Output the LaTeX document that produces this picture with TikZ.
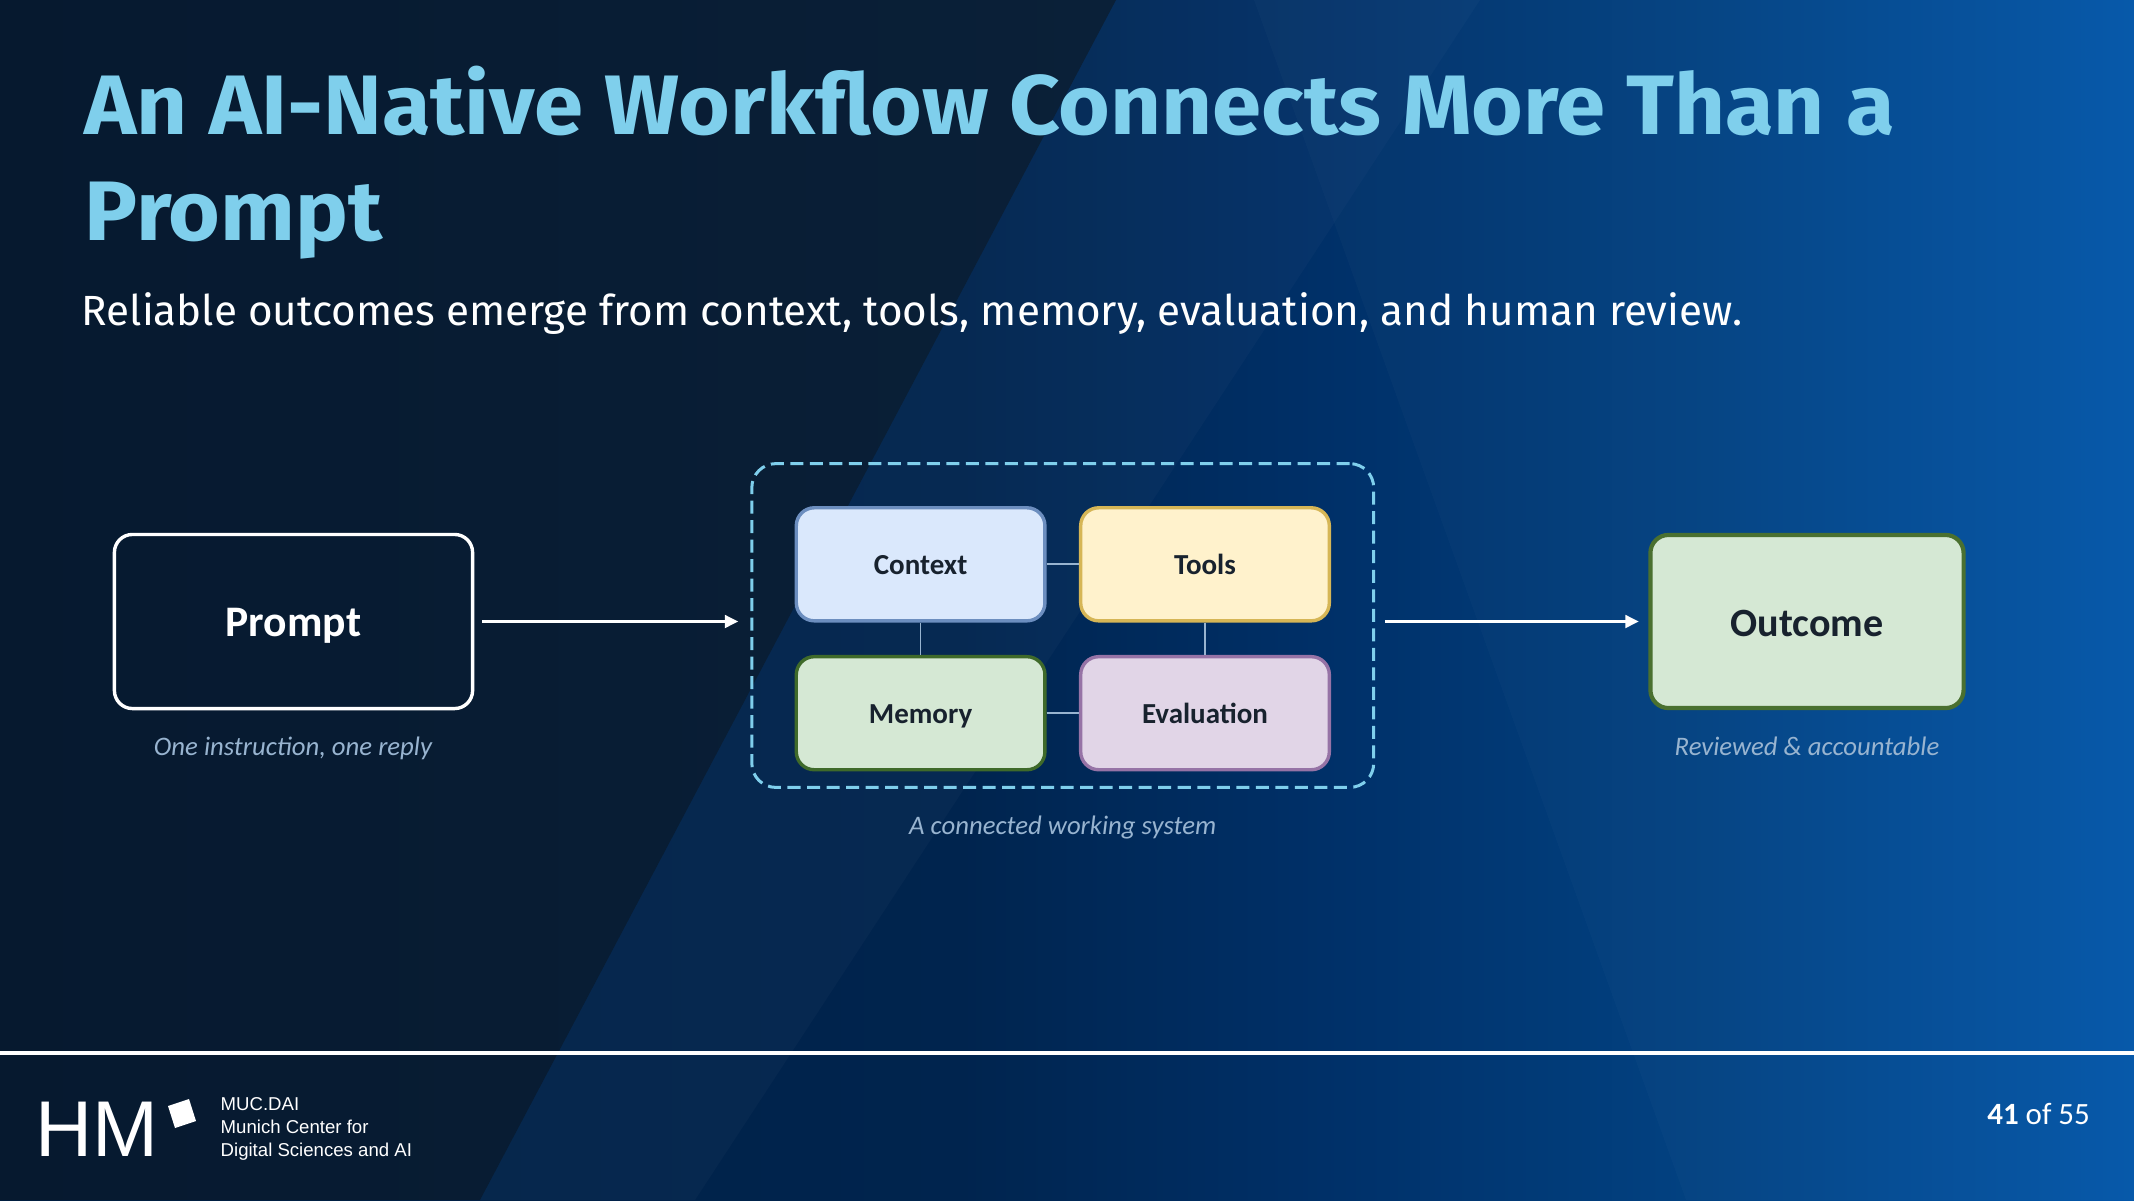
\documentclass[tikz,border=0pt]{standalone}
\usepackage{fontspec}
\setmainfont{Carlito}
\newfontfamily\titlefont[FakeStretch=1.05]{Fira Sans}
\newfontfamily\subfont{Fira Sans}
\newfontfamily\logofont{Liberation Sans}
\definecolor{skyblue}{HTML}{7FCFEC}
\definecolor{notegray}{HTML}{98B4D0}
\definecolor{inkdark}{HTML}{18222E}
\definecolor{wedgeleft}{HTML}{06192F}
\definecolor{wedgeright}{HTML}{0A2038}
\definecolor{bga}{HTML}{001F42}
\definecolor{bgb}{HTML}{00244E}
\definecolor{bgc}{HTML}{003068}
\definecolor{bgd}{HTML}{024282}
\definecolor{bge}{HTML}{0356A9}
\pgfdeclarehorizontalshading{slidebg}{100bp}{
  color(0bp)=(bga);
  color(25bp)=(bga);
  color(47.5bp)=(bgb);
  color(56bp)=(bgc);
  color(65bp)=(bgd);
  color(75bp)=(bge);
  color(100bp)=(bge)}
\tikzset{
  block/.style={draw,rounded corners=0.18cm,line width=0.034cm,inner sep=0,minimum width=2.485cm,minimum height=1.13cm,text height=0.26cm,text depth=0.06cm,text=inkdark,font=\fontsize{8.25}{10}\selectfont\bfseries},
  bigblock/.style={block,minimum width=3.58cm,minimum height=1.74cm,text height=0.385cm,text depth=0.09cm,font=\fontsize{12.4}{14}\selectfont\bfseries},
  note/.style={anchor=base,text=notegray,font=\fontsize{7.6}{9}\selectfont\itshape},
  link/.style={draw=notegray,line width=0.017cm},
  flow/.style={draw=white,line width=0.032cm,-{Stealth[length=0.135cm,width=0.125cm,inset=0pt]}},
  plain/.style={inner sep=0,text=white}
}
\usetikzlibrary{arrows.meta}
\begin{document}
\begin{tikzpicture}[x=0.01cm,y=-0.01cm]
        \useasboundingbox (0,0) rectangle (2134,1200);
        \shade[shading=slidebg] (0,0) rectangle (2134,1200);
        \shade[left color=wedgeleft,right color=wedgeright] (0,0) -- (1116,0) -- (480,1200) -- (0,1200) -- cycle;
        \fill[white,opacity=0.025] (1116,0) -- (1480,0) -- (695,1200) -- (480,1200) -- cycle;
        \fill[white,opacity=0.02] (1254,0) -- (2134,0) -- (2134,1200) -- (1686,1200) -- cycle;

        \node[plain,anchor=base west,align=left,text=skyblue,font=\titlefont\fontsize{24}{30.3}\selectfont\bfseries] (title) at (84,240.7) {An AI-Native Workflow Connects More Than a\\Prompt};
        \node[plain,anchor=base west,font=\subfont\fontsize{12}{14}\selectfont] (subtitle) at (81,325) {Reliable outcomes emerge from context, tools, memory, evaluation, and human review.};

        \node[bigblock,draw=white,text=white] (prompt) at (293.5,621.5) {Prompt};
        \node[note] (promptnote) at (293,755.6) {One instruction, one reply};

        \node[draw=skyblue,rounded corners=0.24cm,line width=0.03cm,dash pattern=on 0.13cm off 0.065cm,minimum width=6.215cm,minimum height=3.236cm,inner sep=0] (system) at (1062.75,625.5) {};
        \foreach \name/\px/\py/\lab/\fc/\dc in {context/920.6/564.3/Context/DAE8FC/6C8EBF,
                tools/1205/564.3/Tools/FFF2CC/D6B656,
                memory/920.6/713.2/Memory/D5E8D4/3F6A2A,
                evaluation/1205/713.2/Evaluation/E1D5E7/9673A6} {
            \definecolor{fc}{HTML}{\fc}
            \definecolor{dc}{HTML}{\dc}
            \node[block,fill=fc,draw=dc] (\name) at (\px,\py) {\lab};
        }
        \draw[link] (context) -- (tools);
        \draw[link] (context) -- (memory);
        \draw[link] (tools) -- (evaluation);
        \draw[link] (memory) -- (evaluation);
        \node[note] (systemnote) at (1062.7,834.6) {A connected working system};

        \definecolor{outcomefill}{HTML}{D5E8D4}
        \definecolor{outcomeline}{HTML}{4A7030}
        \node[bigblock,fill=outcomefill,draw=outcomeline,line width=0.042cm,minimum width=3.13cm,minimum height=1.73cm,font=\fontsize{11.4}{14}\selectfont\bfseries] (outcome) at (1807,621.5) {Outcome};
        \node[note] (outcomenote) at (1807,755.6) {Reviewed \& accountable};

        \draw[flow,shorten <=0.08cm,shorten >=0.12cm] (prompt.east) -- (prompt.east -| system.west);
        \draw[flow,shorten <=0.1cm,shorten >=0.095cm] (outcome.west -| system.east) -- (outcome.west);

        \fill[white] (0,1051.3) rectangle (2134,1055.3);
        \node[plain,anchor=base west,font=\logofont\fontsize{22.5}{26}\selectfont] (hm) at (35,1156.7) {HM};
        \fill[white] (168,1106) -- (189,1099) -- (196,1121) -- (175,1128) -- cycle;
        \node[plain,anchor=west,align=left,font=\logofont\fontsize{5.29}{6.54}\selectfont] (centre) at (220,1128.7) {MUC.DAI\\Munich Center for\\Digital Sciences and AI};
        \node[plain,anchor=base east,font=\fontsize{8.8}{10}\selectfont] (page) at (2090.5,1124) {\textbf{41} of 55};
\end{tikzpicture}
\end{document}
